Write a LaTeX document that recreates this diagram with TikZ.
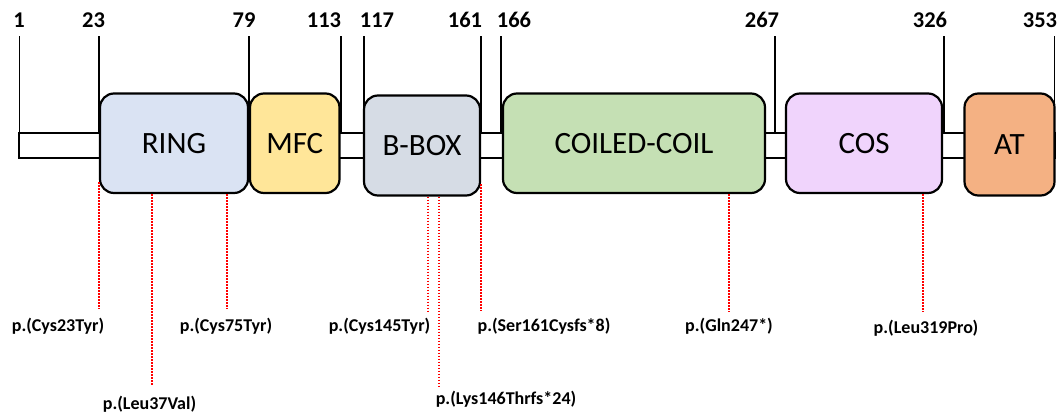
\documentclass[tikz,border=0pt]{standalone}
\usepackage{fontspec}
\setmainfont{Carlito}
\definecolor{cring}{HTML}{DAE3F3}
\definecolor{cmfc}{HTML}{FFE699}
\definecolor{cbbox}{HTML}{D6DCE5}
\definecolor{ccc}{HTML}{C5E0B4}
\definecolor{ccos}{HTML}{F0D4FC}
\definecolor{cat}{HTML}{F4B183}
\definecolor{mutred}{HTML}{FF0000}
\begin{document}
\begin{tikzpicture}[x=1pt,y=-1pt,
  dom/.style={draw=black,line width=2.2pt,rounded corners=14pt,inner sep=0pt,font=\fontsize{31}{31}\selectfont},
  numlab/.style={font=\bfseries\fontsize{22.5}{22.5}\selectfont,anchor=base,inner sep=0pt},
  mutlab/.style={font=\bfseries\fontsize{18}{18}\selectfont,anchor=base,inner sep=0pt},
  tick/.style={draw=black,line width=1.3pt},
  mutline/.style={draw=mutred,line width=2pt,dash pattern=on 1.6pt off 1.4pt},
  barbox/.style={draw=black,fill=white,line width=2pt}]
\useasboundingbox (0,0) rectangle (1059,412);
% backbone bar
\draw[barbox] (19.3,133.4) rectangle (1054.5,157.8);
% position labels and ticks
\node[numlab] (n1) at (19,27.7) {1};
\node[numlab] (n23) at (93.5,27.7) {23};
\node[numlab] (n79) at (244,27.7) {79};
\node[numlab] (n113) at (324,27.7) {113};
\node[numlab] (n117) at (377,27.7) {117};
\node[numlab] (n161) at (465,27.7) {161};
\node[numlab] (n166) at (514,27.7) {166};
\node[numlab] (n267) at (762,27.7) {267};
\node[numlab] (n326) at (930,27.7) {326};
\node[numlab] (n353) at (1040,27.7) {353};
\foreach \n/\x in {1/19.3,23/99,79/249,113/341,117/364,161/481,166/501,267/775,326/944,353/1054.6}{
  \coordinate (t\n a) at (\x,36.5);
  \coordinate (t\n b) at (\x,133.4);
  \draw[tick] (t\n a) -- (t\n b);
}
% domains
\node[dom,fill=cring,minimum width=148pt,minimum height=99.5pt] (ring) at (174,143.25) {RING};
\node[dom,fill=cmfc,minimum width=89.5pt,minimum height=99.5pt] (mfc) at (294.75,143.25) {MFC};
\node[dom,fill=cbbox,minimum width=116pt,minimum height=100pt] (bbox) at (422,145.5) {B-BOX};
\node[dom,fill=ccc,minimum width=262pt,minimum height=99.5pt] (cc) at (634,143.25) {COILED-COIL};
\node[dom,fill=ccos,minimum width=156pt,minimum height=99.5pt] (cos) at (864,143.25) {COS};
\node[dom,fill=cat,minimum width=90pt,minimum height=102pt] (at) at (1009.5,144.5) {AT};
% mutation labels
\node[mutlab] (m1) at (58,331) {p.(Cys23Tyr)};
\node[mutlab] (m2) at (149.5,409) {p.(Leu37Val)};
\node[mutlab] (m3) at (226,331) {p.(Cys75Tyr)};
\node[mutlab] (m4) at (379.5,331) {p.(Cys145Tyr)};
\node[mutlab] (m5) at (506,404) {p.(Lys146Thrfs*24)};
\node[mutlab] (m6) at (544,331) {p.(Ser161Cysfs*8)};
\node[mutlab] (m7) at (729,331) {p.(Gln247*)};
\node[mutlab] (m8) at (926,333) {p.(Leu319Pro)};
% mutation lines
\coordinate (l1) at (99,309);
\coordinate (l2) at (152,386);
\coordinate (l3) at (227,309);
\coordinate (l4) at (428,312);
\coordinate (l5) at (439,387);
\coordinate (l6) at (481,311);
\coordinate (l7) at (729,312);
\coordinate (l8) at (923,312);
\coordinate (l1t) at (99,182);
\coordinate (l6t) at (481,184);
\draw[mutline] (l1t) -- (l1);
\draw[mutline] (ring.south -| l2) -- (l2);
\draw[mutline] (ring.south -| l3) -- (l3);
\draw[mutline] (bbox.south -| l4) -- (l4);
\draw[mutline] (bbox.south -| l5) -- (l5);
\draw[mutline] (l6t) -- (l6);
\draw[mutline] (cc.south -| l7) -- (l7);
\draw[mutline] (cos.south -| l8) -- (l8);
\end{tikzpicture}
\end{document}
